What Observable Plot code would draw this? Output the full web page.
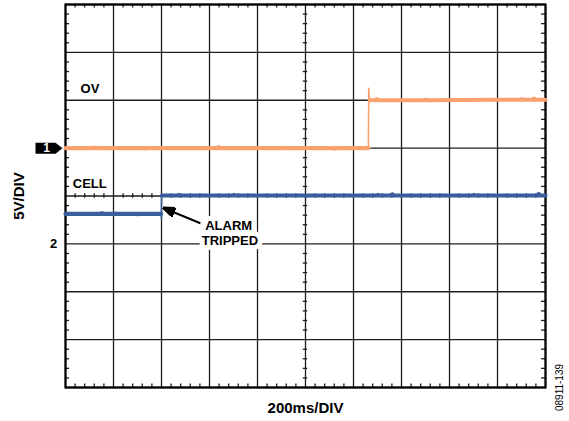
<!DOCTYPE html>
<html><head><meta charset="utf-8">
<script src="https://cdn.jsdelivr.net/npm/d3@7"></script>
<script src="https://cdn.jsdelivr.net/npm/@observablehq/plot@0.6"></script>
<style>
html,body{margin:0;padding:0;background:#fff;}
#chart svg{display:block;}
</style></head><body><div id="chart"></div>
<script>
// Oscilloscope settings: 200 ms/div (10 divisions), 5 V/div (8 divisions)
const VOLTS_PER_DIV = 5;
const timeMajorTicks = [0, 200, 400, 600, 800, 1000, 1200, 1400, 1600, 1800, 2000];
const divMajorTicks = [-4, -3, -2, -1, 0, 1, 2, 3, 4];
const timeMinorTicks = d3.range(0, 2001, 40).filter(t => t % 200 !== 0);
const divMinorTicks = d3.range(-4, 4.001, 0.2).map(v => +v.toFixed(1)).filter(v => Math.abs(v - Math.round(v)) > 1e-6);

// Channels: label, ground reference (divisions), colour
const channelLabels = ["1", "2"];
const channelGroundDiv = [1, -1];
const channelColors = ["#F9A26F", "#3A5E9D"];

// Channel 1: OV output (volts)
const ovTimeMs = [0, 120, 121.5, 123, 330, 331.5, 333, 637, 638.5, 640, 900, 901.5, 903, 1120, 1121.5, 1123, 1262, 1263.5, 1266, 1268, 1296, 1297.5, 1299, 1500, 1501.5, 1503, 1800, 1900, 1901.5, 1903, 1950, 1951.5, 1953, 2000];
const ovVolts  = [0, 0, 0.2, 0, 0, -0.18, 0, 0, 0.25, 0, 0, 0.18, 0, 0, -0.2, 0, 0, 6.25, 5.3, 5.0, 5.0, 5.25, 5.0, 5.0, 5.2, 5.0, 5.05, 5.05, 5.25, 5.05, 5.05, 5.3, 5.05, 5.05];
const ovEdgeMs = [1262.5, 1267.5];

// Channel 2: CELL voltage (volts)
const cellTimeMs = [0, 150, 151.5, 153, 210, 211.5, 213, 300, 301.5, 303, 398, 399.5, 400.5, 402, 470, 471.5, 473, 700, 701.5, 703, 1000, 1001.5, 1003, 1300, 1301.5, 1303, 1360, 1361.5, 1363, 1700, 1701.5, 1703, 1970, 1971.5, 1973, 2000];
const cellVolts  = [3.125, 3.125, 3.35, 3.125, 3.125, 3.3, 3.125, 3.125, 2.95, 3.125, 3.125, 2.7, 5.1, 5.05, 5.05, 5.25, 5.05, 5.05, 5.25, 5.05, 5.05, 4.85, 5.05, 5.05, 5.25, 5.05, 5.05, 5.3, 5.05, 5.05, 5.25, 5.05, 5.05, 5.35, 5.05, 5.05];
const cellEdgeMs = [398.5, 401.5];

// Annotations (time ms, divisions)
const labelTexts = ["OV", "CELL", "ALARM", "TRIPPED"];
const labelTimeMs = [102, 101, 680, 685];
const labelDiv = [2.245, 0.26, -0.63, -0.94];
const labelHalo = [false, false, true, true];
const arrowFrom = {t: 562, div: -0.57};
const arrowTo = {t: 408, div: -0.25};

const axisXLabel = "200ms/DIV";
const axisYLabel = "5V/DIV";
const figureId = "08911-139";

function trace(name, times, volts, ground, edge, color) {
  return times.map((t, i) => ({
    name, t, color,
    y: ground + volts[i] / VOLTS_PER_DIV,
    seg: t < edge[0] ? 0 : t > edge[1] ? 1 : -1
  }));
}
const points = [
  ...trace("OV", ovTimeMs, ovVolts, channelGroundDiv[0], ovEdgeMs, channelColors[0]),
  ...trace("CELL", cellTimeMs, cellVolts, channelGroundDiv[1], cellEdgeMs, channelColors[1])
];
const labels = labelTexts.map((text, i) => ({text, t: labelTimeMs[i], y: labelDiv[i], halo: labelHalo[i]}));
const channels = channelLabels.map((label, i) => ({label, y: channelGroundDiv[i]}));

function filledArrowhead(color) {
  const m = d3.create("svg:marker")
    .attr("viewBox", "0 -5 13 10")
    .attr("markerUnits", "userSpaceOnUse")
    .attr("markerWidth", 13).attr("markerHeight", 10)
    .attr("refX", 12).attr("refY", 0)
    .attr("orient", "auto");
  m.append("path").attr("d", "M0,-5L13,0L0,5Z").attr("fill", color);
  return m.node();
}
const pentagon = {draw(ctx) {
  ctx.moveTo(-27, -5.5); ctx.lineTo(-7, -5.5); ctx.lineTo(0, 0); ctx.lineTo(-7, 5.5); ctx.lineTo(-27, 5.5); ctx.closePath();
}};

const font = "'Liberation Sans', Arial, Helvetica, sans-serif";
const gridColor = "#1e1e1e";
const frameW = 480, frameH = 383, tickLen = 3.5;

const chart = Plot.plot({
  width: 569, height: 421,
  marginLeft: 65, marginRight: 24, marginTop: 4, marginBottom: 34,
  x: {domain: [0, 2000], axis: null},
  y: {domain: [-4, 4], axis: null},
  style: {fontFamily: font, background: "white", overflow: "visible"},
  marks: [
    Plot.ruleX(timeMajorTicks, {stroke: gridColor, strokeWidth: 1.3}),
    Plot.ruleY(divMajorTicks, {stroke: gridColor, strokeWidth: 1.3}),
    // minor ticks along the frame edges
    Plot.tickX(timeMinorTicks, {stroke: gridColor, strokeWidth: 1.3, insetBottom: frameH - tickLen}),
    Plot.tickX(timeMinorTicks, {stroke: gridColor, strokeWidth: 1.3, insetTop: frameH - tickLen}),
    Plot.tickY(divMinorTicks, {stroke: gridColor, strokeWidth: 1.3, insetRight: frameW - tickLen - 0.5}),
    Plot.tickY(divMinorTicks, {stroke: gridColor, strokeWidth: 1.3, insetLeft: frameW - tickLen - 0.5}),
    // minor ticks on the centre cross
    Plot.tickX(timeMinorTicks, {stroke: gridColor, strokeWidth: 1.3, insetTop: frameH / 2 - 2.2, insetBottom: frameH / 2 - 2.2}),
    Plot.tickY(divMinorTicks, {stroke: gridColor, strokeWidth: 1.3, insetLeft: frameW / 2 - 2.2, insetRight: frameW / 2 - 2.2}),
    Plot.frame({stroke: "black", strokeWidth: 2.2}),
    // traces: thin full trace (edges) + thick noisy levels
    Plot.line(points, {x: "t", y: "y", z: "name", stroke: "color", strokeWidth: 1.6}),
    Plot.line(points.filter(d => d.seg >= 0), {x: "t", y: "y", z: d => d.name + d.seg, stroke: "color", strokeWidth: 4.2, strokeLinejoin: "miter", strokeMiterlimit: 4}),
    // annotations
    Plot.text(labels.filter(d => d.halo), {x: "t", y: "y", text: "text", fontSize: 13, fontWeight: "bold", fill: "black", stroke: "white", strokeWidth: 10}),
    Plot.text(labels.filter(d => !d.halo), {x: "t", y: "y", text: "text", fontSize: 13, fontWeight: "bold", fill: "black"}),
    Plot.link([{from: arrowFrom, to: arrowTo}], {x1: d => d.from.t, y1: d => d.from.div, x2: d => d.to.t, y2: d => d.to.div, stroke: "black", strokeWidth: 2, markerEnd: filledArrowhead}),
    // channel ground markers
    Plot.dot(channels.filter(d => d.label === "1"), {y: "y", frameAnchor: "left", dx: -3, symbol: pentagon, fill: "black", stroke: null}),
    Plot.text(channels.filter(d => d.label === "1"), {y: "y", text: "label", frameAnchor: "left", textAnchor: "middle", lineAnchor: "middle", dx: -19, fill: "white", fontSize: 12, fontWeight: "bold"}),
    Plot.text(channels.filter(d => d.label === "2"), {y: "y", text: "label", frameAnchor: "left", textAnchor: "middle", lineAnchor: "middle", dx: -12, fill: "black", fontSize: 13, fontWeight: "bold"}),
    // axis labels
    Plot.text([axisYLabel], {frameAnchor: "left", textAnchor: "middle", lineAnchor: "middle", dx: -46, rotate: -90, fontSize: 15, fontWeight: "bold", fill: "black"}),
    Plot.text([axisXLabel], {frameAnchor: "bottom", textAnchor: "middle", lineAnchor: "middle", dy: 21, fontSize: 15, fontWeight: "bold", fill: "black"}),
    Plot.text([figureId], {frameAnchor: "bottom-right", textAnchor: "middle", lineAnchor: "middle", dx: 14, rotate: -90, fontSize: 10, fill: "black"})
  ]
});
document.getElementById("chart").append(chart);
</script></body></html>
